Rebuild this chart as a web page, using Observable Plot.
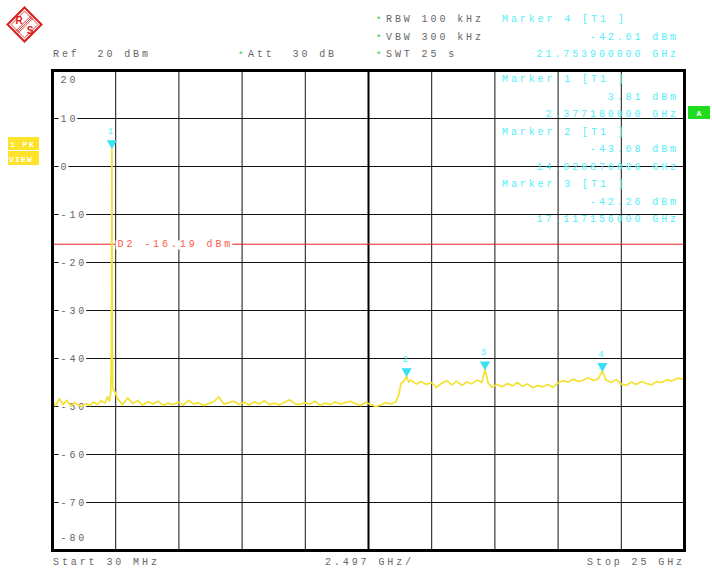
<!DOCTYPE html>
<html><head><meta charset="utf-8">
<script src="https://cdn.jsdelivr.net/npm/d3@7"></script>
<script src="https://cdn.jsdelivr.net/npm/@observablehq/plot@0.6"></script>
<style>
body{margin:0;background:#fff;}
#chart{position:relative;width:712px;height:568px;}
svg text{letter-spacing:2.9px;}
</style>
</head><body><div id="chart"></div>
<script>
// ---- data ----
const freqGHz = [
 0.03,0.15,0.3,0.45,0.6,0.75,0.9,1.05,1.2,1.35,1.5,1.65,1.8,1.95,2.1,2.2,2.28,2.33,2.36,2.377,2.39,2.41,2.5,
 2.6,2.8,3.0,3.2,3.4,3.6,3.8,4.0,4.2,4.4,4.6,4.8,5.0,5.2,5.4,5.6,5.8,6.0,6.2,6.4,6.6,6.8,7.0,7.2,7.4,7.6,7.8,
 8.0,8.2,8.4,8.6,8.8,9.0,9.2,9.4,9.6,9.8,10.0,10.2,10.4,10.6,10.8,11.0,11.2,11.4,11.6,11.8,12.0,12.2,12.4,12.6,12.8,
 13.0,13.2,13.4,13.6,13.7,13.8,13.9,14.020876,14.1,14.2,14.4,14.6,14.8,15.0,15.2,15.4,15.6,15.8,16.0,16.2,16.4,16.6,
 16.8,17.0,17.117156,17.25,17.4,17.6,17.8,18.0,18.2,18.4,18.6,18.8,19.0,19.2,19.4,19.6,19.8,20.0,20.2,20.4,20.6,20.8,
 21.0,21.2,21.4,21.6,21.7539,21.9,22.1,22.3,22.5,22.7,22.9,23.1,23.3,23.5,23.7,23.9,24.1,24.3,24.5,24.7,24.9,25.0
];
const levelDbm = [
 -48.9,-49.8,-48.4,-49.6,-48.7,-49.9,-49.2,-49.7,-50.0,-49.4,-49.8,-49.1,-49.6,-48.8,-49.3,-48.0,-48.9,-47.2,-37.5,3.81,-36.5,-46.2,-47.0,
 -48.4,-49.6,-48.2,-49.4,-48.8,-49.7,-49.0,-49.5,-48.9,-49.8,-49.3,-49.6,-49.1,-49.7,-48.7,-49.5,-49.2,-49.8,-49.4,-49.0,-48.0,-49.5,-49.2,-48.9,-49.6,-49.1,-49.7,
 -49.0,-49.5,-48.8,-49.6,-49.3,-49.7,-49.1,-48.6,-49.4,-49.6,-49.2,-49.5,-48.9,-49.8,-49.3,-49.6,-49.0,-49.5,-49.2,-48.9,-49.4,-49.8,-49.1,-49.6,-50.0,
 -49.7,-49.2,-49.5,-49.0,-47.8,-45.2,-44.8,-43.68,-44.9,-44.5,-45.3,-44.8,-45.4,-45.0,-46.0,-45.2,-44.6,-45.5,-44.7,-45.6,-44.9,-45.3,
 -44.5,-45.0,-42.26,-45.2,-46.0,-45.4,-45.9,-45.2,-45.7,-45.0,-45.8,-45.3,-46.1,-45.6,-45.9,-45.4,-46.0,-45.1,-44.6,-44.9,-44.3,-44.8,
 -44.5,-44.0,-44.6,-44.2,-42.61,-44.5,-45.0,-44.4,-45.3,-45.6,-44.9,-45.4,-44.8,-45.2,-45.5,-44.8,-45.0,-44.4,-44.7,-44.1,-44.3,-44.2
];
const markerIds = [1, 2, 3, 4];
const markerFreqGHz = [2.37718, 14.020876, 17.117156, 21.7539];
const markerLevelDbm = [3.81, -43.68, -42.26, -42.61];
const yTicks = [20, 10, 0, -10, -20, -30, -40, -50, -60, -70, -80];
const xGridGHz = [0.03, 2.527, 5.024, 7.521, 10.018, 12.515, 15.012, 17.509, 20.006, 22.503, 25.0];
const displayLineDbm = -16.19;
const refLevel = "Ref  20 dBm", attText = "Att  30 dB";
const setupTexts = ["RBW 100 kHz", "VBW 300 kHz", "SWT 25 s"];
const footTexts = ["Start 30 MHz", "2.497 GHz/", "Stop 25 GHz"];

// ---- build ----
const trace = freqGHz.map((f, i) => ({f, v: levelDbm[i]}));
const markers = markerIds.map((id, i) => ({id, f: markerFreqGHz[i], v: markerLevelDbm[i]}));
const innerGrid = xGridGHz.slice(1, -1);
const centerGrid = [innerGrid[4]];
const otherGrid = innerGrid.filter((d, i) => i !== 4);
const midTicks = yTicks.slice(1, -1);

const GRAY = "#666", CYAN = "#55eef8", MCYAN = "#36e2f0";
const fmtY = d => String(d);

const chart = Plot.plot({
  width: 712, height: 568,
  marginLeft: 52, marginRight: 28, marginTop: 70, marginBottom: 18,
  x: {domain: [0.03, 25], axis: null},
  y: {domain: [-80, 20], axis: null},
  style: {fontFamily: "Liberation Mono", fontSize: "10px", background: "white", overflow: "visible"},
  marks: [
    Plot.ruleY(midTicks, {stroke: "#111", strokeWidth: 1}),
    Plot.ruleX(otherGrid, {stroke: "#111", strokeWidth: 1}),
    Plot.ruleX(centerGrid, {stroke: "#000", strokeWidth: 2}),
    Plot.ruleY([displayLineDbm], {stroke: "#ee1c1c", strokeWidth: 1}),
    Plot.text([displayLineDbm], {y: d => d, frameAnchor: "left", dx: 65, textAnchor: "start",
      text: d => "D2 " + d.toFixed(2) + " dBm", fill: "#ff5a4a", stroke: "white", strokeWidth: 0.01, fontSize: 10}),
    Plot.text(midTicks, {y: d => d, frameAnchor: "left", dx: 8, textAnchor: "start", text: fmtY,
      fill: GRAY, stroke: "white", strokeWidth: 0.01, fontSize: 10}),
    Plot.text([yTicks[0]], {y: d => d, frameAnchor: "left", dx: 8, dy: 9, textAnchor: "start", text: fmtY, fill: GRAY, fontSize: 10}),
    Plot.text([yTicks[yTicks.length - 1]], {y: d => d, frameAnchor: "left", dx: 8, dy: -13, textAnchor: "start", text: fmtY, fill: GRAY, fontSize: 10}),
    Plot.line(trace, {x: "f", y: "v", stroke: "#f4e232", strokeWidth: 1.7}),
    Plot.dot(markers, {x: "f", y: "v", symbol: "triangle", r: 3.8, rotate: 180, fill: MCYAN, stroke: "none", dy: -5}),
    Plot.text(markers, {x: "f", y: "v", text: "id", dy: -17, fill: CYAN, fontSize: 9}),
    Plot.frame({stroke: "#000", strokeWidth: 3})
  ]
});
document.getElementById("chart").appendChild(chart);

// white boxes behind the labels that interrupt the graticule lines
d3.select(chart).selectAll("g[stroke='white']").each(function () {
  const grp = d3.select(this);
  grp.attr("stroke", null).attr("stroke-width", null);
  grp.selectAll("text").each(function () {
    const b = this.getBBox();
    const tr = this.getAttribute("transform");
    const r = document.createElementNS("http://www.w3.org/2000/svg", "rect");
    r.setAttribute("x", b.x - 2); r.setAttribute("y", b.y + 1);
    r.setAttribute("width", b.width + 1); r.setAttribute("height", b.height - 2);
    r.setAttribute("fill", "white");
    if (tr) r.setAttribute("transform", tr);
    this.parentNode.insertBefore(r, this);
  });
});

// ---- annotations around the graticule ----
const svg = d3.select(chart);
const g = svg.append("g").attr("font-family", "Liberation Mono").attr("font-size", 10);
function txt(x, y, s, fill, anchor = "start", size = 10) {
  return g.append("text").attr("x", x).attr("y", y).attr("fill", fill)
    .attr("text-anchor", anchor).attr("font-size", size).text(s.replace(/ /g, "\u00a0"));
}
function star(x, y) { txt(x, y, "*", "#22cc22", "start", 9).style("letter-spacing", "0px"); }

txt(53, 57, refLevel, GRAY);
star(238, 58); txt(248, 57, attText, GRAY);
setupTexts.forEach((s, i) => { star(376, 23 + i * 17.5); txt(386, 22 + i * 17.5, s, GRAY); });
txt(53, 565, footTexts[0], GRAY);
txt(325, 565, footTexts[1], GRAY);
txt(685, 565, footTexts[2], GRAY, "end");

// marker readouts: marker 4 above, markers 1-3 inside
const order = [3, 0, 1, 2];
const baseY = [22, 82, 134.5, 187];
order.forEach((mi, k) => {
  const m = markers[mi], y0 = baseY[k];
  txt(502, y0, "Marker " + m.id + " [T1 ]", CYAN);
  txt(679, y0 + 17.5, m.v.toFixed(2) + " dBm", CYAN, "end");
  txt(679, y0 + 35, m.f.toFixed(9) + " GHz", CYAN, "end");
});

// trace / status boxes
g.append("rect").attr("x", 8).attr("y", 137).attr("width", 31).attr("height", 13).attr("fill", "#ffe22a");
g.append("rect").attr("x", 8).attr("y", 151).attr("width", 31).attr("height", 14).attr("fill", "#ffe22a");
txt(10, 147, "1 PK", "white", "start", 8).attr("font-weight", "bold").style("letter-spacing", "1.5px");
txt(9, 162, "VIEW", "white", "start", 8).attr("font-weight", "bold").style("letter-spacing", "1.2px");
g.append("rect").attr("x", 688).attr("y", 106).attr("width", 22).attr("height", 13).attr("fill", "#1fdc1f");
txt(699, 116, "A", "white", "middle", 8).attr("font-weight", "bold").style("letter-spacing", "0px");

// R&S logo
const logo = g.append("g").attr("transform", "translate(24.5,24.5)");
const rot = logo.append("g").attr("transform", "rotate(45)");
rot.append("rect").attr("x", -12).attr("y", -12).attr("width", 24).attr("height", 24)
  .attr("fill", "white").attr("stroke", "#d81e1e").attr("stroke-width", 2);
rot.append("rect").attr("x", -9.5).attr("y", -9.5).attr("width", 19).attr("height", 19)
  .attr("fill", "none").attr("stroke", "#d81e1e").attr("stroke-width", 0.8);
[-1.6, 0, 1.6].forEach(dx => rot.append("line").attr("x1", dx).attr("x2", dx).attr("y1", -11).attr("y2", 11)
  .attr("stroke", "#d81e1e").attr("stroke-width", 0.8));
logo.append("text").attr("x", -5.5).attr("y", -1).attr("text-anchor", "middle").attr("font-family", "Liberation Sans")
  .attr("font-size", 10).attr("font-weight", "bold").attr("fill", "#d81e1e").style("letter-spacing", "0px").text("R");
logo.append("text").attr("x", 5.5).attr("y", 9).attr("text-anchor", "middle").attr("font-family", "Liberation Sans")
  .attr("font-size", 10).attr("font-weight", "bold").attr("fill", "#d81e1e").style("letter-spacing", "0px").text("S");
</script>
</body></html>
